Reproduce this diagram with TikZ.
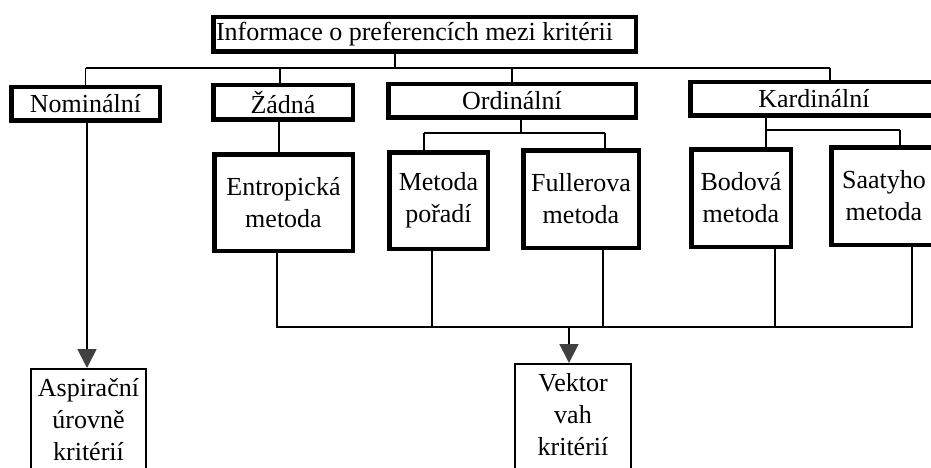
\documentclass[tikz,border=0pt]{standalone}
\usepackage{fontspec}
\setmainfont{Liberation Serif}
\usetikzlibrary{arrows.meta}
\begin{document}
\begin{tikzpicture}[x=1pt,y=-1pt,
  every node/.style={font=\fontsize{26}{32}\selectfont, align=center, inner sep=0pt},
  thickbox/.style={draw, line width=4.5pt},
  thinbox/.style={draw, line width=2pt, inner ysep=9pt},
  conn/.style={line width=1.8pt},
  arr/.style={conn, -{Triangle[width=19pt,length=19pt,color=black!75]}}]
\useasboundingbox (0,0) rectangle (931,468);
\clip (0,0) rectangle (931,468);

% level 1 and 2
\node[thickbox, minimum width=422.5pt, minimum height=34.5pt] (top) at (424.5,34.5) {Informace o preferencích mezi kritérii\hspace*{20pt}};
\node[thickbox, minimum width=148.5pt, minimum height=33.5pt] (nom) at (85.5,104) {Nominální};
\node[thickbox, minimum width=139.5pt, minimum height=34.5pt] (zad) at (283,102.5) {Žádná};
\node[thickbox, minimum width=247.5pt, minimum height=33.5pt] (ord) at (512,101) {Ordinální};
\node[thickbox, minimum width=247.5pt, minimum height=33.5pt] (kar) at (814,99) {Kardinální};

% level 3
\node[thickbox, minimum width=138.5pt, minimum height=96.5pt] (ent) at (283.5,202.5) {Entropická\\metoda};
\node[thickbox, minimum width=98.5pt, minimum height=96.5pt] (met) at (438.5,200.5) {Metoda\\pořadí};
\node[thickbox, minimum width=115.5pt, minimum height=97.5pt] (ful) at (581,199) {Fullerova\\metoda};
\node[thickbox, minimum width=99.5pt, minimum height=97.5pt] (bod) at (741,198) {Bodová\\metoda};
\node[thickbox, minimum width=105.5pt, minimum height=97.5pt] (saa) at (884,196) {Saatyho\\metoda};

% results
\node[thinbox, minimum width=115pt, anchor=north] (asp) at (88.5,368) {Aspirační\\úrovně\\kritérií\rule[-16pt]{0pt}{1pt}};
\node[thinbox, minimum width=116pt, anchor=north] (vek) at (573,363) {Vektor\\vah\\kritérií\rule[-16pt]{0pt}{1pt}};

% top bus
\coordinate (tL) at (85.5,68);
\coordinate (tR) at (830,68);
\draw[conn] (tL) -- (tR);
\draw[conn] ([xshift=-29.5pt]top.south) -- ([xshift=-29.5pt]top.south |- tL);
\draw[conn] (nom.north) -- (tL);
\draw[conn] ([xshift=-3pt]zad.north) -- ([xshift=-3pt]zad.north |- tL);
\draw[conn] (ord.north) -- (ord.north |- tL);
\draw[conn] (tR) -- (tR |- kar.north);

% Ordinalni sub-bus
\coordinate (oL) at (424,133);
\coordinate (oR) at (605,133);
\draw[conn] (oL) -- (oR);
\draw[conn] ([xshift=9pt]ord.south) -- ([xshift=9pt]ord.south |- oL);
\draw[conn] (oL) -- (oL |- met.north);
\draw[conn] (oR) -- (oR |- ful.north);

% Kardinalni sub-bus
\coordinate (kL) at (766,130);
\coordinate (kR) at (900,130);
\draw[conn] (kL) -- (kR);
\draw[conn] (kL |- kar.south) -- (kL) -- (kL |- bod.north);
\draw[conn] (kR) -- (kR |- saa.north);

% Zadna -> Entropicka
\draw[conn] ([xshift=-4pt]zad.south) -- ([xshift=-4pt]zad.south |- ent.north);

% bottom bus
\coordinate (bL) at (277,327);
\coordinate (bR) at (912,327);
\draw[conn] (bL |- ent.south) -- (bL) -- (bR) -- (bR |- saa.south);
\draw[conn] ([xshift=-6.5pt]met.south) -- ([xshift=-6.5pt]met.south |- bL);
\draw[conn] ([xshift=22pt]ful.south) -- ([xshift=22pt]ful.south |- bL);
\draw[conn] ([xshift=34pt]bod.south) -- ([xshift=34pt]bod.south |- bL);

% arrows
\draw[arr] ([xshift=-4pt]vek.north |- bL) -- ([xshift=-4pt]vek.north);
\draw[arr] ([xshift=1.5pt]nom.south) -- ([xshift=1.5pt]nom.south |- asp.north);
\end{tikzpicture}
\end{document}
